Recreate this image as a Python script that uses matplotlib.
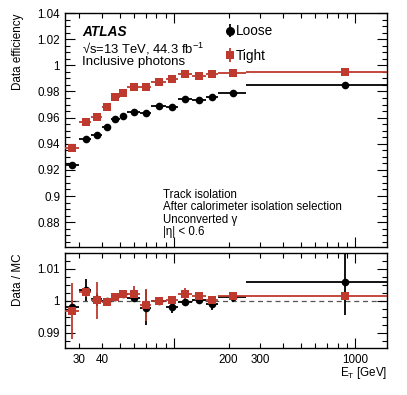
import numpy as np
import matplotlib
matplotlib.use("Agg")
import matplotlib.pyplot as plt
from matplotlib.ticker import FixedLocator, MultipleLocator, NullFormatter

plt.rcParams['font.family'] = ['Liberation Sans', 'DejaVu Sans']

# bin edges in E_T [GeV]
edges = np.array([25, 30, 35, 40, 45, 50, 55, 65, 75, 90, 105, 125, 150, 175, 250, 1500])
centers = np.array([27.5, 32.5, 37.5, 42.5, 47.5, 52.5, 60, 70, 82.5, 97.5, 115, 137.5, 162.5, 212.5, 875])

eff_loose = np.array([0.9237, 0.9438, 0.9464, 0.9525, 0.9591, 0.9612, 0.9643, 0.9635,
                      0.9691, 0.9683, 0.9744, 0.9737, 0.9757, 0.9788, 0.9849])
eff_loose_err = np.array([0.0010, 0.0008, 0.0008, 0.0008, 0.0008, 0.0008, 0.0007, 0.0007,
                          0.0007, 0.0007, 0.0007, 0.0007, 0.0008, 0.0008, 0.0010])
eff_tight = np.array([0.9365, 0.9564, 0.9604, 0.9683, 0.9755, 0.9788, 0.9836, 0.9831,
                      0.9870, 0.9893, 0.9936, 0.9919, 0.9933, 0.9943, 0.9949])
eff_tight_err = np.array([0.0010, 0.0008, 0.0008, 0.0008, 0.0008, 0.0007, 0.0007, 0.0007,
                          0.0007, 0.0006, 0.0006, 0.0006, 0.0006, 0.0006, 0.0008])

sf_loose = np.array([0.9981, 1.0034, 1.0005, 0.9998, 1.0012, 1.0020, 1.0010, 0.9979,
                     1.0000, 0.9981, 0.9995, 1.0002, 0.9990, 1.0012, 1.0058])
sf_loose_err = np.array([0.0020, 0.0035, 0.0020, 0.0010, 0.0008, 0.0008, 0.0012, 0.0055,
                         0.0010, 0.0020, 0.0012, 0.0012, 0.0020, 0.0015, 0.0102])
sf_tight = np.array([0.9969, 1.0028, 1.0002, 0.9997, 1.0013, 1.0021, 1.0021, 0.9987,
                     1.0000, 1.0003, 1.0021, 1.0014, 1.0003, 1.0014, 1.0016])
sf_tight_err = np.array([0.0088, 0.0015, 0.0058, 0.0008, 0.0006, 0.0006, 0.0025, 0.0050,
                         0.0008, 0.0010, 0.0020, 0.0008, 0.0010, 0.0010, 0.0010])

xticks_major = [100, 1000]
xtick_labels = {30: '30', 40: '40', 200: '200', 300: '300', 1000: '1000'}

RED = '#BE3A2E'
W, H = 407, 395
fig = plt.figure(figsize=(W / 100, H / 100), dpi=100)

def frac_ax(x0, y0, x1, y1):
    return fig.add_axes([x0 / W, 1 - y1 / H, (x1 - x0) / W, (y1 - y0) / H])

ax1 = frac_ax(65, 13, 387, 247)
ax2 = frac_ax(65, 253, 387, 348)

xlo = centers - edges[:-1]
xhi = edges[1:] - centers

def draw(ax, y, yerr, color, marker, ms):
    return ax.errorbar(centers, y, xerr=[xlo, xhi], yerr=yerr, fmt=marker, color=color,
                       ms=ms, elinewidth=1.3, capsize=0, mew=0, zorder=3)

draw(ax1, eff_loose, eff_loose_err, 'black', 'o', 5.5)
draw(ax1, eff_tight, eff_tight_err, RED, 's', 5.3)

draw(ax2, sf_loose, sf_loose_err, 'black', 'o', 5.5)
draw(ax2, sf_tight, sf_tight_err, RED, 's', 5.3)
ax2.axhline(1.0, color='#555555', ls=(0, (4, 3)), lw=0.9, zorder=1)

# legend proxies (vertical error bar only, as in the reference legend)
pl = ax1.errorbar([np.nan], [np.nan], yerr=[0.0], fmt='o', color='black', ms=6.5, mew=0,
                  elinewidth=1.3, capsize=0)
pt = ax1.errorbar([np.nan], [np.nan], yerr=[0.0], fmt='s', color=RED, ms=6.3, mew=0,
                  elinewidth=1.3, capsize=0)

for ax in (ax1, ax2):
    ax.set_xscale('log')
    ax.set_xlim(25, 1500)
    ax.xaxis.set_major_locator(FixedLocator(xticks_major))
    minors = [v for d in (10, 100, 1000) for v in np.arange(2, 10) * d if 25 <= v <= 1500]
    ax.xaxis.set_minor_locator(FixedLocator(minors))
    ax.xaxis.set_major_formatter(NullFormatter())
    ax.xaxis.set_minor_formatter(NullFormatter())
    ax.tick_params(which='both', direction='in', top=True, right=True, labelsize=8.4,
                   width=0.8, color='black')
    ax.tick_params(which='major', length=7)
    ax.tick_params(which='minor', length=3.5)
    for s in ax.spines.values():
        s.set_linewidth(1.0)

ax1.set_ylim(0.861, 1.04)
ax1.yaxis.set_minor_locator(MultipleLocator(0.005))
ax1.set_yticks([0.88, 0.9, 0.92, 0.94, 0.96, 0.98, 1.0, 1.02, 1.04])
ax1.set_yticklabels(['0.88', '0.9', '0.92', '0.94', '0.96', '0.98', '1', '1.02', '1.04'])

ax2.set_ylim(0.9852, 1.015)
ax2.set_yticks([0.99, 1.0, 1.01])
ax2.set_yticklabels(['0.99', '1', '1.01'])
ax2.yaxis.set_minor_locator(MultipleLocator(0.0025))

# x tick labels (only selected values)
for v, s in xtick_labels.items():
    ax2.text(v, -0.06, s, transform=ax2.get_xaxis_transform(), ha='center', va='top', fontsize=8.4)

# legend
ax1.legend([pl, pt], ['Loose', 'Tight'], loc='upper left', bbox_to_anchor=(0.485, 0.975),
           frameon=False, fontsize=9.8, handlelength=0.5, handletextpad=0.15,
           labelspacing=0.75, borderaxespad=0)

ax1.text(0.053, 0.919, 'ATLAS', transform=ax1.transAxes, fontsize=9.8, weight='bold',
         style='italic', va='center', ha='left')
ax1.text(0.053, 0.846, '√s=13 TeV, 44.3 fb$^{\\mathregular{-1}}$', transform=ax1.transAxes,
         fontsize=9.4, va='center', ha='left')
ax1.text(0.053, 0.79, 'Inclusive photons', transform=ax1.transAxes, fontsize=9.6,
         va='center', ha='left')

for yy, s in zip([0.222, 0.171, 0.115, 0.064],
                 ['Track isolation', 'After calorimeter isolation selection',
                  'Unconverted γ', '|η| < 0.6']):
    ax1.text(0.304, yy, s, transform=ax1.transAxes, fontsize=8.3, va='center', ha='left')

fig.text(18 / W, 1 - 13 / H, 'Data efficiency', rotation=90, ha='center', va='top', fontsize=8.4)
fig.text(18 / W, 1 - 253 / H, 'Data / MC', rotation=90, ha='center', va='top', fontsize=8.4)
fig.text(387 / W, 1 - 373 / H, r'E$_\mathregular{T}$ [GeV]', ha='right', va='center', fontsize=8.4)

fig.savefig('out.png', dpi=100)
